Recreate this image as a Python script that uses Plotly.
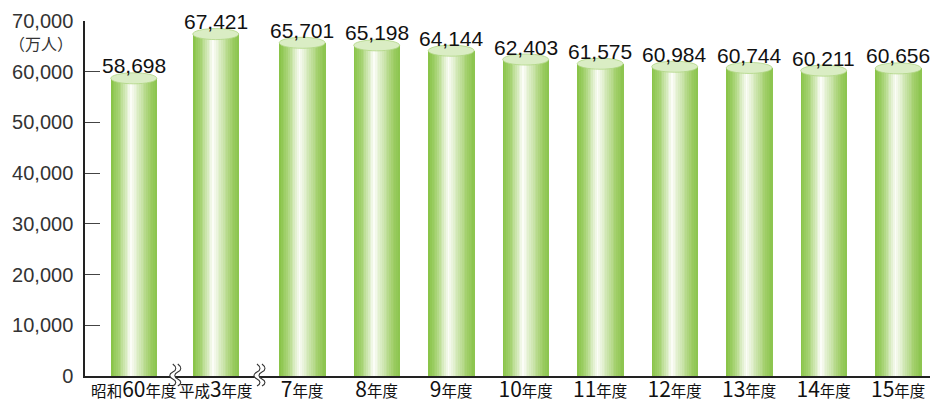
import numpy as np
import plotly.graph_objects as go

# ── data ──────────────────────────────────────────────────────────────
years = ["昭和60年度", "平成3年度", "7年度", "8年度", "9年度", "10年度",
         "11年度", "12年度", "13年度", "14年度", "15年度"]
values = [58698, 67421, 65701, 65198, 64144, 62403,
          61575, 60984, 60744, 60211, 60656]
y_ticks = [0, 10000, 20000, 30000, 40000, 50000, 60000, 70000]
unit_label = "（万人）"

# ── layout helpers ────────────────────────────────────────────────────
# extra space where the time axis is broken (after 昭和60 and 平成3)
BREAK_GAPS = {1: 0.10, 2: 0.16}
pos = []
x = 0.0
for i in range(len(years)):
    if i > 0:
        x += 1 + BREAK_GAPS.get(i, 0)
    pos.append(x)
pos = np.array(pos)
x_range = [pos[0] - 0.655, pos[0] + 10.687]

BAR_W = 0.617
N_SLICES = 26
# horizontal cylinder shading: green edges, bright highlight left of centre
stops_t = [0.0, 0.18, 0.44, 0.62, 0.85, 1.0]
stops_c = np.array([
    [134, 194, 68],
    [168, 212, 118],
    [252, 253, 248],
    [212, 233, 186],
    [160, 206, 104],
    [138, 196, 76],
])


def shade(t):
    rgb = [np.interp(t, stops_t, stops_c[:, k]) for k in range(3)]
    return "rgb({:.0f},{:.0f},{:.0f})".format(*rgb)


def label_html(txt):
    # digits larger, kanji smaller
    out = ""
    for ch in txt:
        if ch.isdigit():
            out += "<span style='font-size:21px'>" + ch + "</span>"
        else:
            out += "<span style='font-size:15.5px'>" + ch + "</span>"
    return out


def wave(dx, down=True):
    # small vertical S-wave used for the axis break mark (pixel coords)
    if down:
        return (f"{dx},12 C {dx+4},9 {dx+4},6 {dx},4 C {dx-4},2 {dx-4},-1 {dx},-3 "
                f"C {dx+4},-5 {dx+4},-8 {dx},-10")
    return (f"{dx},-10 C {dx+4},-8 {dx+4},-5 {dx},-3 C {dx-4},-1 {dx-4},2 {dx},4 "
            f"C {dx+4},6 {dx+4},9 {dx},12")


fig = go.Figure()

sw = BAR_W / N_SLICES
for k in range(N_SLICES):
    fig.add_trace(go.Bar(
        x=pos, y=values,
        width=sw * 1.3,
        offset=-BAR_W / 2 + k * sw,
        marker=dict(color=shade((k + 0.5) / N_SLICES), line=dict(width=0)),
        showlegend=False, hoverinfo="skip",
    ))

shapes = []
# cylinder tops
for p, v in zip(pos, values):
    shapes.append(dict(
        type="circle", xref="x", yref="y",
        x0=p - BAR_W / 2, x1=p + BAR_W / 2,
        ysizemode="pixel", yanchor=v, y0=-5.5, y1=5.5,
        fillcolor="rgb(218,237,196)",
        line=dict(color="rgb(176,213,132)", width=0.8),
        layer="above",
    ))

# axis break marks between the first three bars (paper refs so they aren't clipped)
for i in (0, 1):
    mid = (pos[i] + pos[i + 1]) / 2
    xp = (mid - x_range[0]) / (x_range[1] - x_range[0])
    common = dict(xref="paper", yref="paper", xsizemode="pixel", ysizemode="pixel",
                  xanchor=xp, yanchor=0, layer="above")
    shapes.append(dict(type="path",
                       path="M " + wave(-2) + " L " + wave(3, down=False) + " Z",
                       fillcolor="white", line=dict(width=0), **common))
    for dx in (-2, 3):
        shapes.append(dict(type="path", path="M " + wave(dx),
                           line=dict(color="#333", width=1.1), **common))

# value labels sit just on the cylinder top
annotations = [dict(
    x=p, y=v, xref="x", yref="y", text=f"{v:,}",
    xanchor="center", yanchor="bottom", yshift=-1, showarrow=False,
    font=dict(family="Liberation Sans, Arial", size=21, color="#111"),
) for p, v in zip(pos, values)]

annotations.append(dict(
    text=unit_label, xref="paper", yref="y", x=0, y=70000,
    xanchor="right", yanchor="top", xshift=-10, yshift=-8,
    showarrow=False,
    font=dict(family="Noto Sans CJK JP", size=16, color="#333"),
))

fig.update_layout(
    width=931, height=404,
    margin=dict(l=85, r=1, t=21, b=28, autoexpand=False),
    plot_bgcolor="white", paper_bgcolor="white",
    barmode="overlay", bargap=0,
    font=dict(family="Noto Sans CJK JP, Liberation Sans", color="#111"),
    shapes=shapes,
    annotations=annotations,
    xaxis=dict(
        range=x_range,
        tickvals=pos, ticktext=[label_html(y) for y in years],
        tickangle=0,
        ticks="", showgrid=False, zeroline=False,
        showline=True, linecolor="#222", linewidth=1.5,
        tickfont=dict(size=16, color="#111"),
        fixedrange=True,
    ),
    yaxis=dict(
        range=[0, 70000],
        tickvals=y_ticks, ticktext=[f"{v:,}" for v in y_ticks],
        ticks="inside", ticklen=15, tickcolor="#444", tickwidth=1,
        ticklabelstandoff=6,
        showgrid=False, zeroline=False,
        showline=True, linecolor="#222", linewidth=1.5,
        tickfont=dict(family="Liberation Sans, Arial", size=20, color="#333"),
        fixedrange=True,
    ),
)

fig.write_html("out.html", config={"displayModeBar": False},
               post_script="document.body.style.margin='0';")
